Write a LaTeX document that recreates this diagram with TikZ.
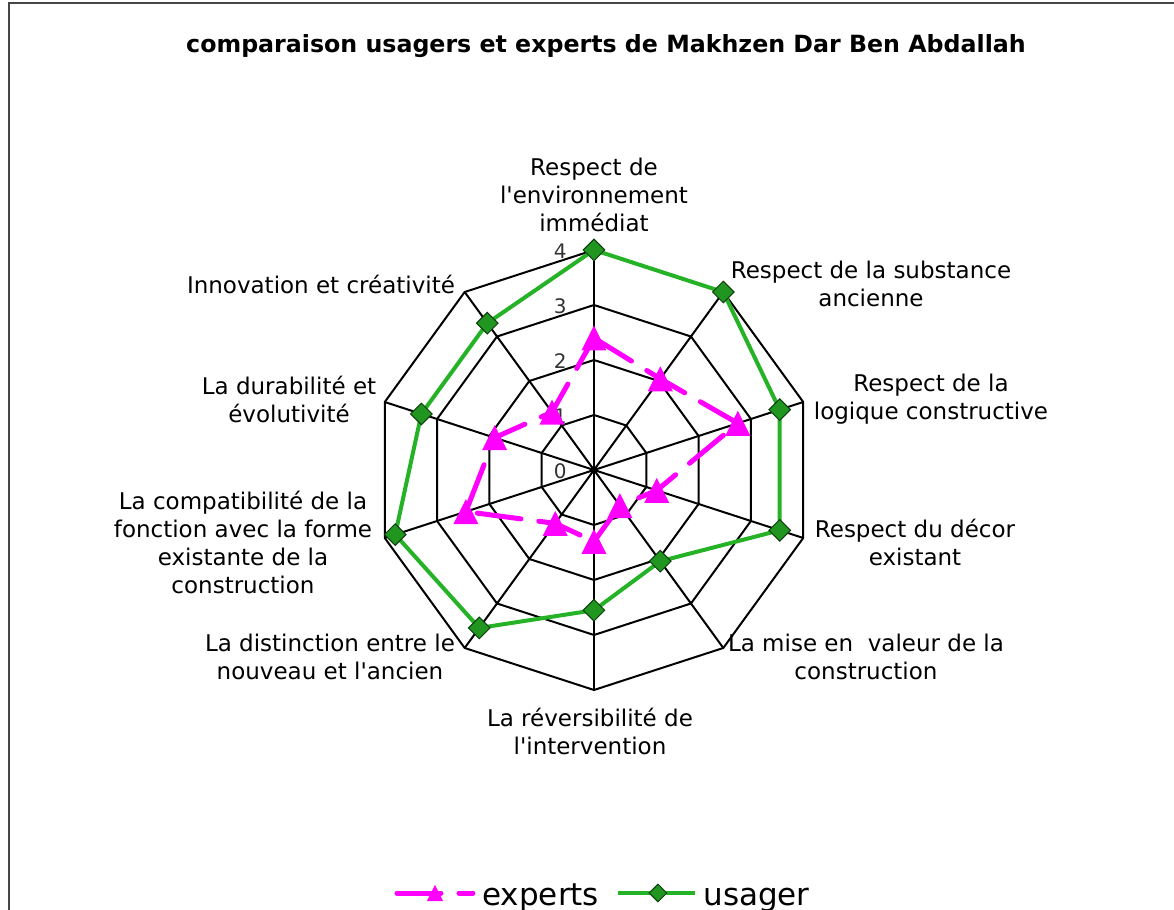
\documentclass[tikz,border=0pt]{standalone}
\usepackage{fontspec}
\setmainfont{DejaVu Sans}[Ligatures=TeXOff]
\usetikzlibrary{shapes.geometric}

\definecolor{usagergreen}{RGB}{38,178,38}
\definecolor{usagerfill}{RGB}{32,150,32}
\definecolor{expertpink}{RGB}{255,0,255}
\definecolor{framegray}{RGB}{70,70,70}

\tikzset{
  gridline/.style={black, line width=1pt, line join=miter},
  axislabel/.style={align=center, font=\fontsize{11.5}{14}\selectfont, inner sep=0pt},
  levellabel/.style={font=\fontsize{10}{11}\selectfont, text=black!80, anchor=east, inner sep=0pt},
  legendtext/.style={anchor=base west, inner sep=0pt, font=\fontsize{15.5}{18}\selectfont},
  usagerline/.style={usagergreen, line width=2pt, line join=round},
  usagermark/.style={diamond, aspect=1, minimum size=11pt, inner sep=0pt,
    fill=usagerfill, draw=black!60!usagerfill, line width=0.5pt},
  expertline/.style={expertpink, line width=2.5pt, line cap=round, line join=round,
    dash pattern=on 22pt off 9pt},
  expertmark/.pic={\fill[expertpink] (-12.5,-12.5) -- (12.5,-12.5) -- (0,12.5) -- cycle;},
}

\begin{document}
\begin{tikzpicture}[x=0.5pt, y=0.5pt]
\useasboundingbox (-594,-440) rectangle (580,470);

% frame and title
\draw[framegray, line width=1pt] (-585,-440) -- (-585,467) -- (580,467);
\node[font=\bfseries\fontsize{11.85}{14}\selectfont] (title) at (12,424)
  {comparaison usagers et experts de Makhzen Dar Ben Abdallah};

% web
\foreach \r in {1,...,4}
  \draw[gridline] (90:{\r*55}) \foreach \i in {1,...,9} { -- ({90-36*\i}:{\r*55}) } -- cycle;
\foreach \i in {0,...,9} {
  \coordinate (ax\i) at ({90-36*\i}:220);
  \draw[gridline] (0,0) -- (ax\i);
}
\foreach \r in {0,...,4}
  \node[levellabel] (lv\r) at (-27,{\r*55-1}) {\r};

% usager
\foreach \v [count=\i from 0] in {4,4,3.55,3.55,2.05,2.55,3.55,3.8,3.3,3.3}
  \coordinate (u\i) at ({90-36*\i}:{\v*55});
\draw[usagerline] (u0) -- (u1) -- (u2) -- (u3) -- (u4) -- (u5) -- (u6) -- (u7) -- (u8) -- (u9) -- cycle;
\foreach \i in {0,...,9}
  \node[usagermark] (um\i) at (u\i) {};

% experts
\foreach \v [count=\i from 0] in {2.4,2.05,2.75,1.2,0.8,1.3,1.2,2.45,1.9,1.3}
  \coordinate (e\i) at ({90-36*\i}:{\v*55});
\draw[expertline] (e0) -- (e1) -- (e2) -- (e3) -- (e4) -- (e5) -- (e6) -- (e7) -- (e8) -- (e9) -- cycle;
\foreach \i in {0,...,9}
  \pic at (e\i) {expertmark};

% axis labels
\node[axislabel] (l0) at (0,275) {Respect de\\l'environnement\\immédiat};
\node[axislabel] (l1) at (277,186) {Respect de la substance\\ancienne};
\node[axislabel] (l2) at (337,71) {Respect de la\\logique constructive};
\node[axislabel] (l3) at (321,-72) {Respect du décor\\existant};
\node[axislabel] (l4) at (272,-187) {La mise en\ \ valeur de la\\construction};
\node[axislabel] (l5) at (-4,-261) {La réversibilité de\\l'intervention};
\node[axislabel] (l6) at (-264,-187) {La distinction entre le\\nouveau et l'ancien};
\node[axislabel] (l7) at (-351,-72) {La compatibilité de la\\fonction avec la forme\\existante de la\\construction};
\node[axislabel] (l8) at (-305,71) {La durabilité et\\évolutivité};
\node[axislabel] (l9) at (-273,186) {Innovation et créativité};

% legend
\coordinate (lega) at (-197,-423);
\coordinate (legb) at (-121,-423);
\draw[expertline] (lega) -- (legb);
\pic[scale=0.65] at (-159,-423) {expertmark};
\node[legendtext] (legexp) at (-112,-435) {experts};
\coordinate (legc) at (24,-423);
\coordinate (legd) at (101,-423);
\draw[usagerline] (legc) -- (legd);
\node[usagermark, minimum size=9pt] (legmark) at (64,-423) {};
\node[legendtext] (legusa) at (109,-435) {usager};
\end{tikzpicture}
\end{document}
